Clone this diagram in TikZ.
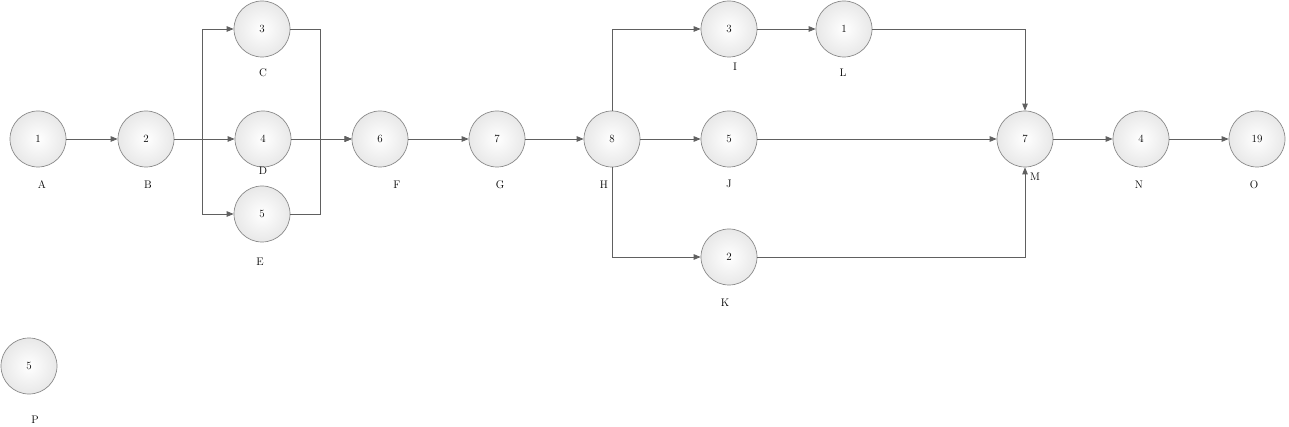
\documentclass[tikz,border=0pt]{standalone}
\usetikzlibrary{arrows.meta}
\definecolor{edgec}{HTML}{606060}
\definecolor{rimc}{HTML}{8A8A8A}
\tikzset{
  ev/.style={circle, draw=rimc, line width=0.7pt, minimum size=56pt, inner sep=0pt,
    inner color=white, outer color=black!9, font=\fontsize{11}{12}\selectfont},
  lab/.style={font=\fontsize{11}{12}\selectfont, inner sep=0pt},
  con/.style={draw=edgec, line width=0.8pt, -{Triangle[length=7pt,width=5.5pt]}, color=edgec},
}
\begin{document}
\begin{tikzpicture}[x=1pt,y=-1pt]
\useasboundingbox[fill=white] (0,0) rectangle (1289,427);
\node[ev] (A) at (38,139) {1};
\node[ev] (B) at (146,139) {2};
\node[ev] (C) at (262,29) {3};
\node[ev] (D) at (263,139) {4};
\node[ev] (E) at (262,214) {5};
\node[ev] (F) at (380,139) {6};
\node[ev] (G) at (497,139) {7};
\node[ev] (H) at (612,139) {8};
\node[ev] (I) at (729,29) {3};
\node[ev] (L) at (844,29) {1};
\node[ev] (J) at (729,139) {5};
\node[ev] (K) at (729,257) {2};
\node[ev] (M) at (1025,139) {7};
\node[ev] (N) at (1141,139) {4};
\node[ev] (O) at (1257,139) {19};
\node[ev] (P) at (29,366) {5};
\node[lab] (lA) at (42,185) {A};
\node[lab] (lB) at (148,185) {B};
\node[lab] (lC) at (263,73) {C};
\node[lab] (lD) at (263,171) {D};
\node[lab] (lE) at (260,262) {E};
\node[lab] (lF) at (397,185) {F};
\node[lab] (lG) at (500,185) {G};
\node[lab] (lH) at (604,185) {H};
\node[lab] (lI) at (735,67) {I};
\node[lab] (lL) at (843,73) {L};
\node[lab] (lJ) at (729,184) {J};
\node[lab] (lK) at (725,303) {K};
\node[lab] (lM) at (1035,177) {M};
\node[lab] (lN) at (1139,185) {N};
\node[lab] (lO) at (1254,185) {O};
\node[lab] (lP) at (35,420) {P};
\coordinate (bx) at (202,0);
\coordinate (fx) at (320,0);
\draw[con] (A) -- (B);
\draw[con] (B) -- (D);
\draw[con] (B.east) -- (bx |- B) |- (C.west);
\draw[con] (B.east) -- (bx |- B) |- (E.west);
\draw[con] (D) -- (F);
\draw[con] (C.east) -| (fx |- F) -- (F.west);
\draw[con] (E.east) -| (fx |- F) -- (F.west);
\draw[con] (F) -- (G);
\draw[con] (G) -- (H);
\draw[con] (H.north) |- (I.west);
\draw[con] (H) -- (J);
\draw[con] (H.south) |- (K.west);
\draw[con] (I) -- (L);
\draw[con] (L.east) -| (M.north);
\draw[con] (J) -- (M);
\draw[con] (K.east) -| (M.south);
\draw[con] (M) -- (N);
\draw[con] (N) -- (O);
\end{tikzpicture}
\end{document}
